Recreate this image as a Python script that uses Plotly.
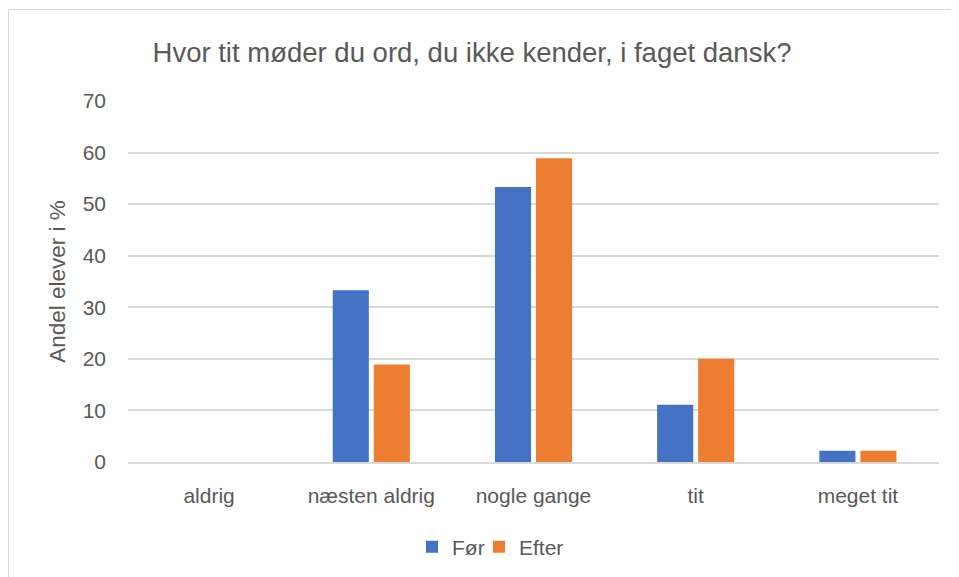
import plotly.graph_objects as go

categories = ["aldrig", "næsten aldrig", "nogle gange", "tit", "meget tit"]
foer = [0, 33.3, 53.3, 11.1, 2.2]
efter = [0, 18.9, 58.9, 20.0, 2.2]
series_names = ["Før", "Efter"]
colors = ["#4472C4", "#ED7D31"]
title_text = "Hvor tit møder du ord, du ikke kender, i faget dansk?"
y_title = "Andel elever i %"

FONT = "Liberation Sans"
OFF = 8  # page body margin
W, H = 959, 577
L, R, T, B = 128 - OFF, 959 - (939 - OFF), 101 - OFF, 577 - (462 - OFF)
pw, ph = W - L - R, H - T - B

def px_x(p):
    return (p - OFF - L) / pw

def px_y(p):
    return (H - B - (p - OFF)) / ph

fig = go.Figure()
legend_ids = ["legend", "legend2"]
for name, vals, c, lg in zip(series_names, [foer, efter], colors, legend_ids):
    fig.add_trace(go.Bar(x=categories, y=vals, name=name, marker_color=c,
                         marker_line_width=0, legend=lg))

leg_common = dict(orientation="h", xanchor="left", yanchor="middle",
                  font=dict(size=21), itemsizing="constant",
                  bgcolor="rgba(0,0,0,0)", borderwidth=0)
fig.update_layout(
    width=W, height=H,
    margin=dict(l=L, r=R, t=T, b=B, autoexpand=False),
    paper_bgcolor="white", plot_bgcolor="white",
    barmode="group", bargap=0.494, bargroupgap=0.12,
    font=dict(family=FONT, color="#595959", size=21),
    title=dict(text=title_text, x=px_x(472), xref="paper", xanchor="center",
               y=1 - (52 - OFF) / H, yanchor="middle",
               font=dict(family=FONT, size=27.5, color="#595959")),
    legend=dict(x=px_x(412), y=px_y(547), **leg_common),
    legend2=dict(x=px_x(479), y=px_y(547), **leg_common),
    showlegend=True,
)
fig.update_yaxes(range=[0, 70], dtick=10, showgrid=True, gridcolor="#D9D9D9",
                 gridwidth=1.5, zeroline=False, showline=False,
                 ticklabelstandoff=21, tickfont=dict(size=21),
                 title=dict(text=y_title, standoff=10, font=dict(size=22.5)))
fig.update_xaxes(showgrid=False, showline=True, linecolor="#D9D9D9", linewidth=1.5,
                 ticklabelstandoff=14, tickfont=dict(size=21))

# chart-area border (extends beyond the captured window)
fig.add_shape(type="rect", xref="paper", yref="paper",
              x0=px_x(8.5), x1=px_x(1000), y0=px_y(9.5), y1=px_y(700),
              line=dict(color="#D9D9D9", width=1), fillcolor="rgba(0,0,0,0)", layer="below")

fig.write_html("out.html")
